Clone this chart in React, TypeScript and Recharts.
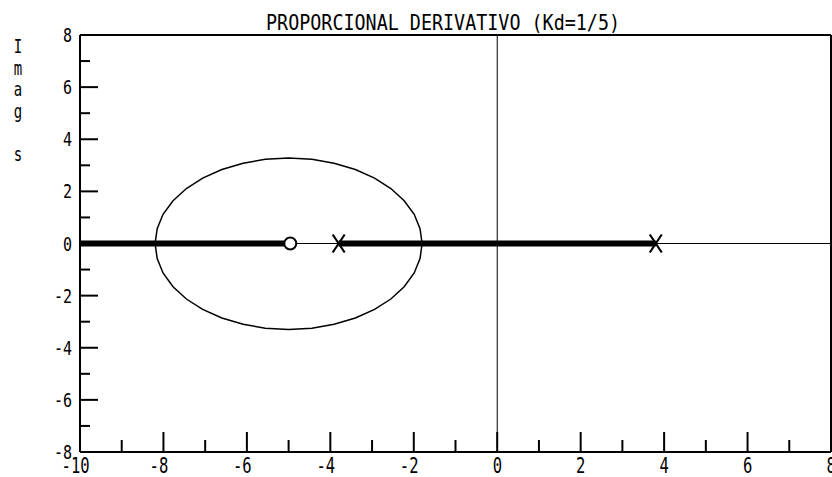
import React from "react";
import {
  ComposedChart,
  Line,
  Scatter,
  XAxis,
  YAxis,
  ReferenceLine,
} from "recharts";

// axis ticks
const xTicks = [-10, -9, -8, -7, -6, -5, -4, -3, -2, -1, 0, 1, 2, 3, 4, 5, 6, 7, 8];
const yTicks = [-8, -7, -6, -5, -4, -3, -2, -1, 0, 1, 2, 3, 4, 5, 6, 7, 8];

// open-loop poles and zero
const polesX = [-3.8, 3.8];
const zerosX = [-4.96];

// real-axis parts of the locus (start, end)
const realSegments = [
  [-10, -4.96],
  [-3.8, 3.8],
];

// complex branch: the loop around the zero
const loopX = [
  -1.8, -1.85, -1.99, -2.23, -2.55, -2.94, -3.4, -3.91, -4.44, -5.0, -5.56,
  -6.09, -6.6, -7.06, -7.45, -7.77, -8.01, -8.15, -8.2, -8.15, -8.01, -7.77,
  -7.45, -7.06, -6.6, -6.09, -5.56, -5.0, -4.44, -3.91, -3.4, -2.94, -2.55,
  -2.23, -1.99, -1.85, -1.8,
];
const loopY = [
  0, 0.57, 1.12, 1.64, 2.11, 2.51, 2.84, 3.08, 3.23, 3.28, 3.23, 3.08, 2.84,
  2.51, 2.11, 1.64, 1.12, 0.57, 0, -0.58, -1.13, -1.66, -2.13, -2.53, -2.86,
  -3.1, -3.25, -3.3, -3.25, -3.1, -2.86, -2.53, -2.13, -1.66, -1.13, -0.58, 0,
];

const TITLE = "PROPORCIONAL DERIVATIVO (Kd=1/5)";
const SIDE_LABEL = ["I", "m", "a", "g", "", "s"];

const FONT = "'DejaVu Sans Mono', monospace";

const loopData = loopX.map((x, i) => ({ x, y: loopY[i] }));
const poleData = polesX.map((x) => ({ x, y: 0 }));
const zeroData = zerosX.map((x) => ({ x, y: 0 }));

function XTick(props: any) {
  const { x, y, payload } = props;
  const v = payload.value as number;
  const major = v % 2 === 0;
  const digits = String(Math.abs(v)).length;
  return (
    <g>
      <line x1={x} x2={x} y1={y} y2={y - (major ? 20 : 12)} stroke="#000" strokeWidth={2} />
      {major && (
        <text
          transform={`translate(${x + digits * 4.8},${y + 21}) scale(0.74,1)`}
          textAnchor="end"
          fontFamily={FONT}
          fontSize={21}
          fill="#000"
        >
          {v < 0 ? `-${Math.abs(v)}` : v}
        </text>
      )}
    </g>
  );
}

function YTick(props: any) {
  const { x, y, payload } = props;
  const v = payload.value as number;
  const major = v % 2 === 0;
  return (
    <g>
      <line x1={x} x2={x + (major ? 18 : 10)} y1={y} y2={y} stroke="#000" strokeWidth={2} />
      {major && (
        <text
          transform={`translate(${x - 8},${y + 7}) scale(0.75,1)`}
          textAnchor="end"
          fontFamily={FONT}
          fontSize={20}
          fill="#000"
        >
          {v < 0 ? `-${Math.abs(v)}` : v}
        </text>
      )}
    </g>
  );
}

function PoleMark(props: any) {
  const { cx, cy } = props;
  return (
    <g stroke="#000" strokeWidth={2.2} fill="none">
      <path d={`M${cx - 6},${cy - 9} Q${cx},${cy} ${cx + 6},${cy + 9}`} />
      <path d={`M${cx + 6},${cy - 9} Q${cx},${cy} ${cx - 6},${cy + 9}`} />
    </g>
  );
}

function ZeroMark(props: any) {
  const { cx, cy } = props;
  return <circle cx={cx} cy={cy} r={6} fill="#fff" stroke="#000" strokeWidth={2} />;
}

export default function App() {
  return (
    <div style={{ position: "absolute", left: 0, top: 0, width: 832, height: 477, background: "#fff" }}>
      <ComposedChart
        width={832}
        height={477}
        margin={{ top: 35, right: 1, bottom: 0, left: 0 }}
      >
        <XAxis
          type="number"
          dataKey="x"
          domain={[-10, 8]}
          ticks={xTicks}
          interval={0}
          height={25}
          tickSize={0}
          tickMargin={0}
          tickLine={false}
          tick={<XTick />}
          axisLine={{ stroke: "#000", strokeWidth: 2 }}
          allowDataOverflow
        />
        <YAxis
          type="number"
          dataKey="y"
          domain={[-8, 8]}
          ticks={yTicks}
          interval={0}
          width={80}
          tickSize={0}
          tickMargin={0}
          tickLine={false}
          tick={<YTick />}
          axisLine={{ stroke: "#000", strokeWidth: 2 }}
          allowDataOverflow
        />
        <ReferenceLine y={8} stroke="#000" strokeWidth={2} />
        <ReferenceLine x={8} stroke="#000" strokeWidth={2} />
        <ReferenceLine y={0} stroke="#000" strokeWidth={1} />
        <ReferenceLine x={0} stroke="#000" strokeWidth={1} />

        {realSegments.map((seg, i) => (
          <Line
            key={i}
            data={seg.map((x) => ({ x, y: 0 }))}
            dataKey="y"
            stroke="#000"
            strokeWidth={6}
            dot={false}
            isAnimationActive={false}
          />
        ))}
        <Line
          data={loopData}
          dataKey="y"
          type="linear"
          stroke="#000"
          strokeWidth={1.5}
          dot={false}
          isAnimationActive={false}
        />
        <Scatter data={zeroData} dataKey="y" shape={<ZeroMark />} isAnimationActive={false} />
        <Scatter data={poleData} dataKey="y" shape={<PoleMark />} isAnimationActive={false} />
      </ComposedChart>

      <svg
        width={832}
        height={477}
        style={{ position: "absolute", left: 0, top: 0, pointerEvents: "none" }}
      >
        <text
          x={266}
          y={30}
          fontFamily={FONT}
          fontSize={21}
          textLength={354}
          lengthAdjust="spacingAndGlyphs"
          fill="#000"
        >
          {TITLE}
        </text>
        {SIDE_LABEL.map((ch, i) => (
          <text
            key={i}
            transform={`translate(18,${53 + i * 21.5}) scale(0.7,1)`}
            textAnchor="middle"
            fontFamily={FONT}
            fontSize={20}
            fill="#000"
          >
            {ch}
          </text>
        ))}
      </svg>
    </div>
  );
}
